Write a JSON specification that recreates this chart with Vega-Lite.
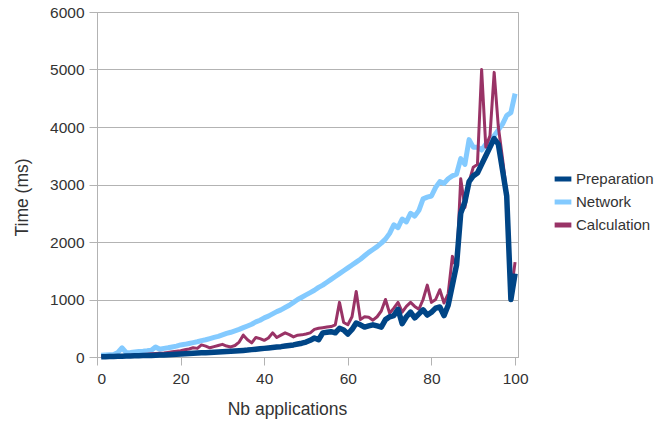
{
  "$schema": "https://vega.github.io/schema/vega-lite/v6.json",
  "autosize": {"type": "none"},
  "padding": {"left": 97, "top": 12, "right": 136, "bottom": 70},
  "width": 421,
  "height": 345,
  "background": "white",
  "config": {
    "font": "Liberation Sans",
    "view": {"stroke": "#b3b3b3", "strokeWidth": 1},
    "axis": {
      "labelFont": "Liberation Sans",
      "titleFont": "Liberation Sans",
      "labelFontSize": 15.5,
      "titleFontSize": 17.5,
      "labelColor": "#333333",
      "titleColor": "#333333",
      "titleFontWeight": "normal",
      "domainColor": "#b3b3b3",
      "tickColor": "#b3b3b3",
      "gridColor": "#b3b3b3",
      "tickSize": 8
    },
    "legend": {
      "labelFont": "Liberation Sans",
      "labelFontSize": 15,
      "labelColor": "#333333"
    }
  },
  "data": {
    "values": [
      {"n":1,"Preparation":5,"Network":30,"Calculation":10},
      {"n":2,"Preparation":6,"Network":35,"Calculation":12},
      {"n":3,"Preparation":8,"Network":40,"Calculation":15},
      {"n":4,"Preparation":10,"Network":45,"Calculation":18},
      {"n":5,"Preparation":12,"Network":80,"Calculation":20},
      {"n":6,"Preparation":14,"Network":160,"Calculation":25},
      {"n":7,"Preparation":16,"Network":75,"Calculation":28},
      {"n":8,"Preparation":18,"Network":80,"Calculation":32},
      {"n":9,"Preparation":20,"Network":88,"Calculation":36},
      {"n":10,"Preparation":22,"Network":95,"Calculation":40},
      {"n":11,"Preparation":24,"Network":100,"Calculation":45},
      {"n":12,"Preparation":26,"Network":108,"Calculation":50},
      {"n":13,"Preparation":28,"Network":118,"Calculation":55},
      {"n":14,"Preparation":30,"Network":175,"Calculation":60},
      {"n":15,"Preparation":33,"Network":135,"Calculation":65},
      {"n":16,"Preparation":36,"Network":150,"Calculation":70},
      {"n":17,"Preparation":40,"Network":160,"Calculation":80},
      {"n":18,"Preparation":44,"Network":175,"Calculation":90},
      {"n":19,"Preparation":48,"Network":190,"Calculation":100},
      {"n":20,"Preparation":52,"Network":210,"Calculation":110},
      {"n":21,"Preparation":56,"Network":220,"Calculation":125},
      {"n":22,"Preparation":60,"Network":235,"Calculation":140},
      {"n":23,"Preparation":64,"Network":250,"Calculation":160},
      {"n":24,"Preparation":68,"Network":265,"Calculation":150},
      {"n":25,"Preparation":72,"Network":285,"Calculation":210},
      {"n":26,"Preparation":76,"Network":300,"Calculation":190},
      {"n":27,"Preparation":80,"Network":320,"Calculation":160},
      {"n":28,"Preparation":84,"Network":340,"Calculation":180},
      {"n":29,"Preparation":88,"Network":360,"Calculation":200},
      {"n":30,"Preparation":92,"Network":385,"Calculation":220},
      {"n":31,"Preparation":96,"Network":410,"Calculation":190},
      {"n":32,"Preparation":100,"Network":430,"Calculation":175},
      {"n":33,"Preparation":105,"Network":455,"Calculation":200},
      {"n":34,"Preparation":110,"Network":480,"Calculation":260},
      {"n":35,"Preparation":115,"Network":510,"Calculation":380},
      {"n":36,"Preparation":120,"Network":540,"Calculation":300},
      {"n":37,"Preparation":128,"Network":570,"Calculation":245},
      {"n":38,"Preparation":135,"Network":610,"Calculation":340},
      {"n":39,"Preparation":142,"Network":640,"Calculation":320},
      {"n":40,"Preparation":150,"Network":680,"Calculation":290},
      {"n":41,"Preparation":158,"Network":710,"Calculation":330},
      {"n":42,"Preparation":165,"Network":750,"Calculation":420},
      {"n":43,"Preparation":172,"Network":790,"Calculation":340},
      {"n":44,"Preparation":180,"Network":820,"Calculation":380},
      {"n":45,"Preparation":190,"Network":860,"Calculation":420},
      {"n":46,"Preparation":200,"Network":900,"Calculation":390},
      {"n":47,"Preparation":210,"Network":950,"Calculation":350},
      {"n":48,"Preparation":225,"Network":1000,"Calculation":380},
      {"n":49,"Preparation":240,"Network":1040,"Calculation":385},
      {"n":50,"Preparation":260,"Network":1080,"Calculation":400},
      {"n":51,"Preparation":290,"Network":1120,"Calculation":420},
      {"n":52,"Preparation":330,"Network":1160,"Calculation":480},
      {"n":53,"Preparation":300,"Network":1210,"Calculation":500},
      {"n":54,"Preparation":420,"Network":1250,"Calculation":510},
      {"n":55,"Preparation":430,"Network":1300,"Calculation":520},
      {"n":56,"Preparation":440,"Network":1350,"Calculation":530},
      {"n":57,"Preparation":420,"Network":1400,"Calculation":560},
      {"n":58,"Preparation":500,"Network":1450,"Calculation":950},
      {"n":59,"Preparation":470,"Network":1500,"Calculation":600},
      {"n":60,"Preparation":400,"Network":1550,"Calculation":560},
      {"n":61,"Preparation":480,"Network":1600,"Calculation":700},
      {"n":62,"Preparation":590,"Network":1650,"Calculation":1140},
      {"n":63,"Preparation":560,"Network":1700,"Calculation":650},
      {"n":64,"Preparation":520,"Network":1760,"Calculation":700},
      {"n":65,"Preparation":540,"Network":1820,"Calculation":690},
      {"n":66,"Preparation":560,"Network":1870,"Calculation":640},
      {"n":67,"Preparation":540,"Network":1920,"Calculation":700},
      {"n":68,"Preparation":520,"Network":1980,"Calculation":800},
      {"n":69,"Preparation":650,"Network":2050,"Calculation":1000},
      {"n":70,"Preparation":700,"Network":2150,"Calculation":760},
      {"n":71,"Preparation":720,"Network":2300,"Calculation":850},
      {"n":72,"Preparation":830,"Network":2250,"Calculation":950},
      {"n":73,"Preparation":580,"Network":2400,"Calculation":780},
      {"n":74,"Preparation":700,"Network":2350,"Calculation":880},
      {"n":75,"Preparation":780,"Network":2500,"Calculation":950},
      {"n":76,"Preparation":680,"Network":2450,"Calculation":880},
      {"n":77,"Preparation":750,"Network":2550,"Calculation":830},
      {"n":78,"Preparation":820,"Network":2750,"Calculation":1000},
      {"n":79,"Preparation":730,"Network":2780,"Calculation":1250},
      {"n":80,"Preparation":780,"Network":2800,"Calculation":950},
      {"n":81,"Preparation":850,"Network":2950,"Calculation":1000},
      {"n":82,"Preparation":870,"Network":3050,"Calculation":1170},
      {"n":83,"Preparation":720,"Network":3020,"Calculation":940},
      {"n":84,"Preparation":900,"Network":3100,"Calculation":1100},
      {"n":85,"Preparation":1250,"Network":3150,"Calculation":1750},
      {"n":86,"Preparation":1600,"Network":3180,"Calculation":1550},
      {"n":87,"Preparation":2500,"Network":3450,"Calculation":3100},
      {"n":88,"Preparation":2700,"Network":3350,"Calculation":2600},
      {"n":89,"Preparation":3050,"Network":3780,"Calculation":3050},
      {"n":90,"Preparation":3150,"Network":3650,"Calculation":3300},
      {"n":91,"Preparation":3200,"Network":3650,"Calculation":3350},
      {"n":92,"Preparation":3350,"Network":3600,"Calculation":5000},
      {"n":93,"Preparation":3500,"Network":3700,"Calculation":3650},
      {"n":94,"Preparation":3650,"Network":3750,"Calculation":3850},
      {"n":95,"Preparation":3800,"Network":3850,"Calculation":4950},
      {"n":96,"Preparation":3700,"Network":3950,"Calculation":4000},
      {"n":97,"Preparation":3250,"Network":4050,"Calculation":3450},
      {"n":98,"Preparation":2800,"Network":4200,"Calculation":2850},
      {"n":99,"Preparation":1000,"Network":4250,"Calculation":1100},
      {"n":100,"Preparation":1450,"Network":4580,"Calculation":1650}
    ]
  },
  "encoding": {
    "x": {
      "field": "n",
      "type": "quantitative",
      "scale": {"domain": [0, 100.7], "nice": false},
      "axis": {"title": "Nb applications", "values": [0, 20, 40, 60, 80, 100], "format": "d", "grid": false, "labelPadding": 6, "titlePadding": 14, "titleX": 190}
    }
  },
  "layer": [
    {
      "mark": {"type": "line", "strokeWidth": 5, "strokeJoin": "round"},
      "encoding": {
        "y": {
          "field": "Network",
          "type": "quantitative",
          "scale": {"domain": [0, 6000], "nice": false},
          "axis": {"title": "Time (ms)", "values": [0, 1000, 2000, 3000, 4000, 5000, 6000], "format": "d", "grid": true, "labelPadding": 5, "titlePadding": 18, "titleY": 185}
        },
        "color": {
          "datum": "Network",
          "type": "nominal",
          "scale": {"domain": ["Preparation", "Network", "Calculation"], "range": ["#004586", "#83caff", "#993366"]},
          "legend": {"title": null, "orient": "none", "legendX": 455, "legendY": 156, "symbolType": "stroke", "symbolStrokeWidth": 5, "symbolSize": 280, "rowPadding": 2, "labelOffset": 2}
        }
      }
    },
    {
      "mark": {"type": "line", "strokeWidth": 3, "strokeJoin": "round"},
      "encoding": {
        "y": {"field": "Calculation", "type": "quantitative"},
        "color": {"datum": "Calculation", "type": "nominal"}
      }
    },
    {
      "mark": {"type": "line", "strokeWidth": 5.5, "strokeJoin": "round"},
      "encoding": {
        "y": {"field": "Preparation", "type": "quantitative"},
        "color": {"datum": "Preparation", "type": "nominal"}
      }
    }
  ]
}
